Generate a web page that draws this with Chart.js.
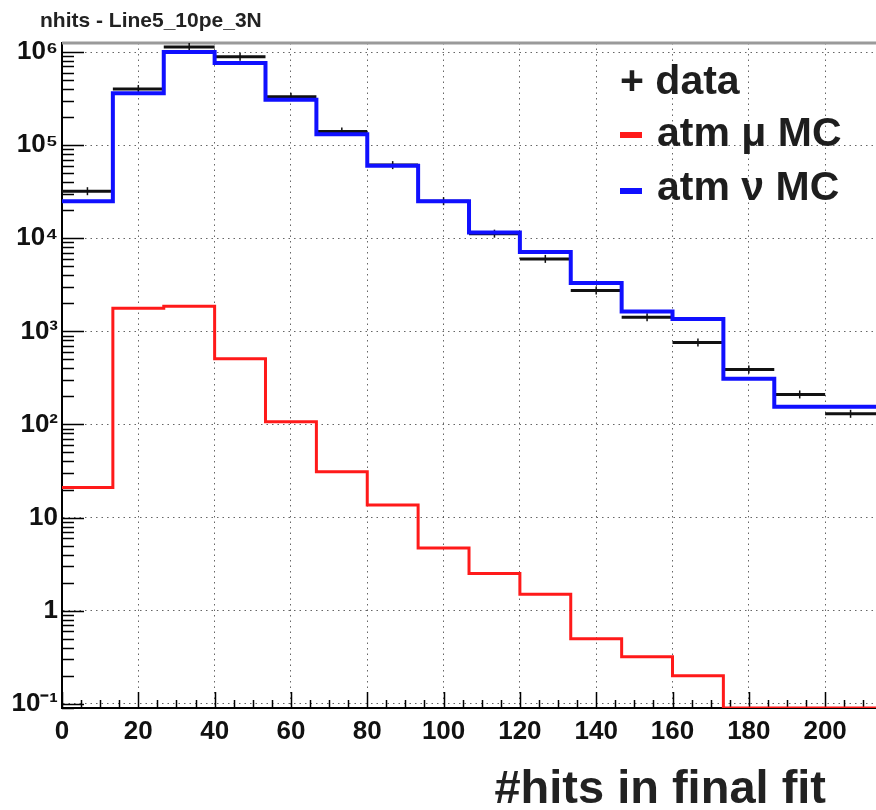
<!DOCTYPE html>
<html lang="en">
<head>
    <meta charset="UTF-8">
    <title>nhits - Line5_10pe_3N</title>
    <script src="https://cdn.jsdelivr.net/npm/chart.js"></script>
    <style>
        body { margin: 0; background: #fff; }
        #wrap { position: relative; width: 876px; height: 810px; overflow: hidden; }
        .txt { position: absolute; font-family: 'Liberation Sans', Arial, Helvetica, sans-serif; font-weight: bold; color: #1e1e1e; white-space: nowrap; }
        #title { left: 40px; top: 9px; font-size: 21px; line-height: 21px; color: #222; }
        .leg { left: 620px; font-size: 41px; line-height: 41px; }
        .mk { position: absolute; left: 620px; width: 22px; height: 6px; }
        #xtitle { right: 50px; top: 763px; font-size: 47px; line-height: 47px; color: #222; }
    </style>
</head>
<body>
<div id="wrap">
    <canvas id="hitsChart" width="876" height="810"></canvas>
    <div id="title" class="txt">nhits - Line5_10pe_3N</div>
    <div class="txt leg" style="top:60px">+ data</div>
    <div class="mk" style="top:132px; background:#ff1a1a"></div>
    <div class="txt leg" style="top:112px; left:657px">atm μ MC</div>
    <div class="mk" style="top:188px; background:#1010ff"></div>
    <div class="txt leg" style="top:166px; left:657px">atm ν MC</div>
    <div id="xtitle" class="txt">#hits in final fit</div>
</div>
<script>
    // bin edges (#hits), 16 bins
    const binEdges = [0, 13.33, 26.67, 40, 53.33, 66.67, 80, 93.33, 106.67, 120,
                      133.33, 146.67, 160, 173.33, 186.67, 200, 213.33];

    // values per bin
    const dataCounts = [3.2e4, 4.0e5, 1.13e6, 8.9e5, 3.3e5, 1.4e5, 6.1e4, 2.5e4,
                        1.12e4, 6.0e3, 2.75e3, 1.42e3, 7.6e2, 3.9e2, 2.1e2, 1.3e2];
    const atmMuMC = [21, 1770, 1860, 506, 107, 31, 13.6, 4.7,
                     2.5, 1.5, 0.5, 0.32, 0.2, 0, 0, 0];
    const atmNuMC = [2.5e4, 3.6e5, 1.0e6, 7.6e5, 3.07e5, 1.31e5, 6.0e4, 2.5e4,
                     1.15e4, 7.1e3, 3.3e3, 1.63e3, 1.36e3, 3.1e2, 1.55e2, 1.55e2];

    const xTicks = [0, 20, 40, 60, 80, 100, 120, 140, 160, 180, 200];
    const yTicks = [0.1, 1, 10, 100, 1e3, 1e4, 1e5, 1e6];
    const yLabels = ['10⁻¹', '1', '10', '10²', '10³', '10⁴', '10⁵', '10⁶'];

    const X_MAX = 213.33;
    const Y_MIN = 0.09;
    const Y_MAX = 1.25e6;

    // histogram outline: one point per bin edge, empty bins sit on the axis floor
    function stepPoints(values) {
        const pts = values.map((v, i) => ({ x: binEdges[i], y: v > 0 ? v : Y_MIN }));
        const last = values[values.length - 1];
        pts.push({ x: binEdges[values.length], y: last > 0 ? last : Y_MIN });
        return pts;
    }

    // data: horizontal bar over each bin with a small vertical mark in the middle
    function dataPoints(values) {
        const pts = [];
        values.forEach((v, i) => {
            const lo = binEdges[i], hi = binEdges[i + 1];
            pts.push({ x: lo, y: v }, { x: (lo + hi) / 2, y: v }, { x: hi, y: v }, { x: hi, y: null });
        });
        return pts;
    }

    // inner ticks ROOT style + grey top frame
    const innerTicks = {
        id: 'innerTicks',
        beforeDatasetsDraw(chart) {
            const { ctx, chartArea: a, scales: { x, y } } = chart;
            ctx.save();
            ctx.strokeStyle = '#000';
            ctx.lineWidth = 1.5;
            ctx.beginPath();
            for (let k = -2; k <= 6; k++) {
                for (let m = 1; m <= 9; m++) {
                    const v = m * Math.pow(10, k);
                    if (v < Y_MIN || v > Y_MAX) continue;
                    const py = Math.round(y.getPixelForValue(v)) + 0.5;
                    ctx.moveTo(a.left, py);
                    ctx.lineTo(a.left + (m === 1 ? 22 : 12), py);
                }
            }
            for (let v = 0; v <= X_MAX; v += 5) {
                const px = Math.round(x.getPixelForValue(v)) + 0.5;
                ctx.moveTo(px, a.bottom);
                ctx.lineTo(px, a.bottom - (v % 20 === 0 ? 16 : 8));
            }
            ctx.stroke();
            ctx.strokeStyle = '#9a9a9a';
            ctx.lineWidth = 3;
            ctx.beginPath();
            ctx.moveTo(a.left, a.top);
            ctx.lineTo(a.right, a.top);
            ctx.stroke();
            ctx.restore();
        }
    };

    const tickFont = { family: "'Liberation Sans', Arial, sans-serif", size: 26, weight: 'bold' };
    const gridOpts = { color: 'rgba(0,0,0,0.6)', lineWidth: 1, drawTicks: false };

    new Chart(document.getElementById('hitsChart'), {
        type: 'line',
        data: {
            datasets: [
                {
                    label: 'atm ν MC',
                    data: stepPoints(atmNuMC),
                    borderColor: '#1010ff',
                    borderWidth: 4,
                    stepped: 'before',
                    pointRadius: 0,
                    fill: false
                },
                {
                    label: 'atm μ MC',
                    data: stepPoints(atmMuMC),
                    borderColor: '#ff1a1a',
                    borderWidth: 3,
                    stepped: 'before',
                    pointRadius: 0,
                    fill: false
                },
                {
                    label: 'data',
                    data: dataPoints(dataCounts),
                    borderColor: '#111',
                    borderWidth: 3,
                    spanGaps: false,
                    pointStyle: 'line',
                    rotation: 90,
                    pointRadius: ctx => (ctx.index % 4 === 1 ? 4 : 0),
                    pointBorderColor: '#111',
                    pointBorderWidth: 1.5,
                    fill: false
                }
            ]
        },
        options: {
            responsive: false,
            animation: false,
            layout: { padding: { top: 43, left: 0, right: 0, bottom: 0 } },
            plugins: {
                legend: { display: false },
                tooltip: { enabled: false }
            },
            scales: {
                x: {
                    type: 'linear',
                    min: 0,
                    max: X_MAX,
                    afterBuildTicks: s => { s.ticks = xTicks.map(v => ({ value: v })); },
                    afterFit: s => { s.height = 102; },
                    grid: gridOpts,
                    border: { color: '#000', width: 2, dash: [1.5, 4] },
                    ticks: { font: tickFont, color: '#111', padding: 8, autoSkip: false, maxRotation: 0 }
                },
                y: {
                    type: 'logarithmic',
                    min: Y_MIN,
                    max: Y_MAX,
                    afterBuildTicks: s => { s.ticks = yTicks.map(v => ({ value: v })); },
                    afterFit: s => { s.width = 62; },
                    grid: gridOpts,
                    border: { color: '#000', width: 2, dash: [1.5, 4] },
                    ticks: {
                        font: tickFont,
                        color: '#111',
                        padding: 4,
                        autoSkip: false,
                        callback: (v, i) => yLabels[i]
                    }
                }
            }
        },
        plugins: [innerTicks]
    });
</script>
</body>
</html>
